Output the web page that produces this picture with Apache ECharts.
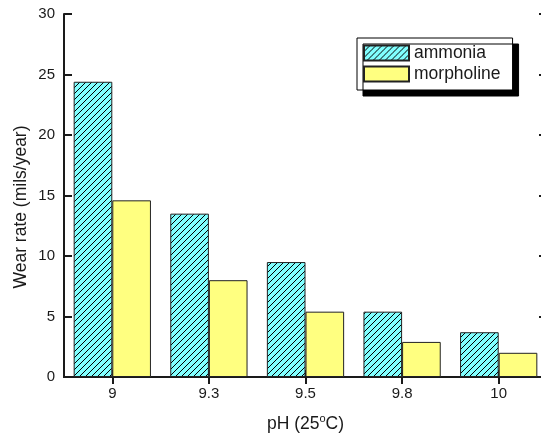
<!DOCTYPE html>
<html><head><meta charset="utf-8">
<script src="https://cdn.jsdelivr.net/npm/echarts@6/dist/echarts.min.js"></script>
<style>html,body{margin:0;padding:0;background:#fff;overflow:hidden}#c{width:541px;height:440px}</style>
</head><body><div id="c"></div>
<script>
const categories = ['9', '9.3', '9.5', '9.8', '10'];
const ammonia = [24.4, 13.5, 9.5, 5.4, 3.7];
const morpholine = [14.6, 8.0, 5.4, 2.9, 2.0];
const seriesNames = ['ammonia', 'morpholine'];
const yMin = 0, yMax = 30, yInterval = 5;
const xTitle = 'pH (25{sup|o}C)';
const yTitle = 'Wear rate (mils/year)';

const FONT = '"Liberation Sans", Arial, sans-serif';
const INK = '#1a1a1a';

function hatch() {
  const s = 6, c = document.createElement('canvas');
  c.width = s; c.height = s;
  const g = c.getContext('2d');
  g.fillStyle = '#80FFFF'; g.fillRect(0, 0, s, s);
  g.strokeStyle = '#000'; g.lineWidth = 1;
  g.beginPath();
  g.moveTo(0, s); g.lineTo(s, 0);
  g.moveTo(-s / 2, s / 2); g.lineTo(s / 2, -s / 2);
  g.moveTo(s / 2, s * 1.5); g.lineTo(s * 1.5, s / 2);
  g.stroke();
  return c;
}

const axisLine = { show: true, lineStyle: { color: INK, width: 2 } };
const chart = echarts.init(document.getElementById('c'), null, { renderer: 'canvas' });
chart.setOption({
  animation: false,
  backgroundColor: '#fff',
  textStyle: { fontFamily: FONT },
  grid: { left: 64, width: 483, top: 14, bottom: 63, containLabel: false, outerBoundsMode: 'none' },
  legend: {
    orient: 'vertical', left: 357, top: 38,
    data: seriesNames, icon: 'rect',
    itemWidth: 45, itemHeight: 15, itemGap: 3,
    padding: [6, 12, 7, 6],
    backgroundColor: '#fff', borderColor: '#000', borderWidth: 1,
    shadowColor: '#000', shadowOffsetX: 6, shadowOffsetY: 6, shadowBlur: 0,
    textStyle: { fontSize: 17.5, color: INK, lineHeight: 18, fontFamily: FONT }
  },
  xAxis: [{
    type: 'category', data: categories, position: 'bottom',
    axisLine: axisLine,
    axisTick: { show: true, inside: true, length: 7, alignWithLabel: true, lineStyle: { color: INK, width: 2 } },
    axisLabel: { fontSize: 15, margin: 9, color: INK, fontFamily: FONT },
    name: xTitle, nameLocation: 'middle', nameGap: 36,
    nameTextStyle: { fontSize: 17.5, color: INK, fontFamily: FONT,
      rich: { sup: { fontSize: 11, verticalAlign: 'top', color: INK, fontFamily: FONT, padding: [0, 0, 12, 0] } } }
  }, {
    type: 'category', data: categories, position: 'top',
    axisLine: axisLine,
    axisTick: { show: true, inside: true, length: 7, alignWithLabel: true, lineStyle: { color: INK, width: 2 } },
    axisLabel: { show: false }
  }],
  yAxis: [{
    type: 'value', min: yMin, max: yMax, interval: yInterval, position: 'left',
    axisLine: axisLine,
    axisTick: { show: true, inside: true, length: 8, lineStyle: { color: INK, width: 2 } },
    axisLabel: { fontSize: 15, margin: 9, color: INK, fontFamily: FONT },
    splitLine: { show: false }
  }, {
    type: 'value', min: yMin, max: yMax, interval: yInterval, position: 'right',
    axisLine: axisLine,
    axisTick: { show: true, inside: true, length: 8, lineStyle: { color: INK, width: 2 } },
    axisLabel: { show: false },
    splitLine: { show: false }
  }],
  graphic: [{
    type: 'text', x: 21, y: 207, rotation: Math.PI / 2,
    style: { text: yTitle, fontSize: 17.5, fontFamily: FONT, fill: INK, align: 'center', verticalAlign: 'middle' }
  }],
  series: [{
    name: seriesNames[0], type: 'bar', data: ammonia,
    barGap: '0%', barCategoryGap: '20%',
    itemStyle: { color: { image: hatch(), repeat: 'repeat' }, borderColor: '#222', borderWidth: 1 }
  }, {
    name: seriesNames[1], type: 'bar', data: morpholine,
    barGap: '0%', barCategoryGap: '20%',
    itemStyle: { color: '#FFFF80', borderColor: '#222', borderWidth: 1 }
  }]
});
</script></body></html>
